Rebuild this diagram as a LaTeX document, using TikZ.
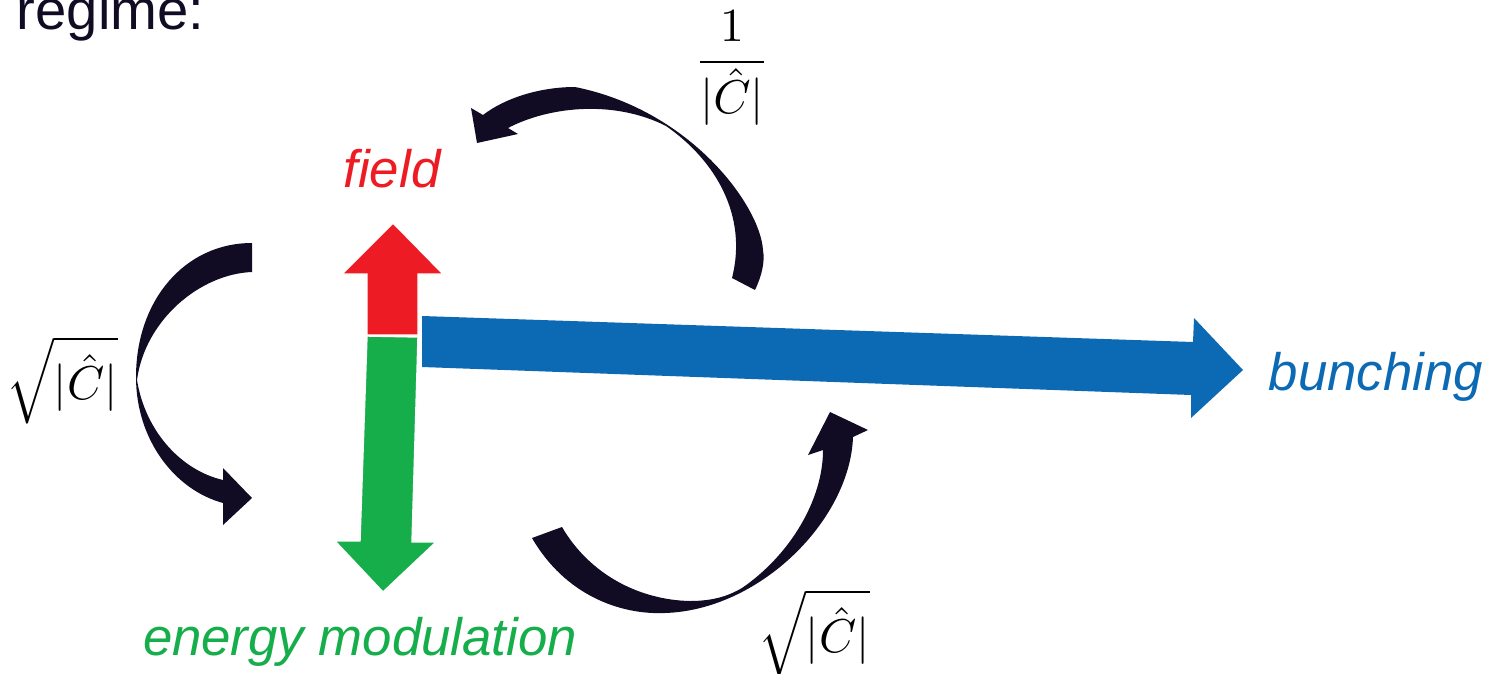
\documentclass[tikz,border=0pt]{standalone}
\usepackage[no-math]{fontspec}
\setsansfont{Liberation Sans}
\definecolor{fieldred}{HTML}{ED1C24}
\definecolor{energygreen}{HTML}{16AD4B}
\definecolor{bunchblue}{HTML}{0C6AB5}
\definecolor{inkdark}{HTML}{110C24}
\tikzset{
  lbl/.style={font=\sffamily\itshape\fontsize{15}{18}\selectfont, inner sep=0pt},
  coef/.style={scale=1.35, inner sep=0pt},
  curvy/.style={fill=inkdark},
  bigarrow/.style={draw=white, line width=0.4pt}
}
\begin{document}
\begin{tikzpicture}[x=0.01cm, y=-0.01cm]
  \useasboundingbox (0,0) rectangle (1498,673);
  % heading, cut at the top
  \node[font=\sffamily\fontsize{16}{19}\selectfont, text=inkdark, anchor=base west, inner sep=0pt] (regime) at (16,30) {regime:};
  % blue arrow towards bunching
  \fill[bunchblue] (422,316) -- (1193,342) -- (1194,318) -- (1243,370) -- (1191,418) -- (1191,395) -- (422,367) -- cycle;
  % red arrow up (field)
  \fill[fieldred, bigarrow] (367,335) -- (367,274) -- (342,274) -- (393,223) -- (443,274) -- (418,274) -- (418,335) -- cycle;
  % green arrow down (energy modulation)
  \fill[energygreen, bigarrow] (367,336) -- (418,337) -- (412,542) -- (436,542) -- (383,592) -- (335,541) -- (360,541) -- cycle;
  % labels
  \node[lbl, text=fieldred, anchor=base] (field) at (392,187) {field};
  \node[lbl, text=energygreen, anchor=base] (energy) at (360,655) {energy modulation};
  \node[lbl, text=bunchblue, anchor=base west] (bunching) at (1268,390) {bunching};
  % curved arrow top: back to field
  \fill[curvy] (755,290) .. controls (762,275) and (765,262) .. (763,250)
    .. controls (760,205) and (690,110) .. (575,87)
    .. controls (540,87) and (505,98) .. (483,115)
    -- (471,108) -- (477,143) -- (518,134) -- (508,128)
    .. controls (550,106) and (615,100) .. (666,126)
    .. controls (715,160) and (748,215) .. (732,278) -- cycle;
  % curved arrow left: down to energy modulation
  \fill[curvy] (252,243) .. controls (185,243) and (136,300) .. (136,377)
    .. controls (136,440) and (175,490) .. (223,503)
    -- (223,525) -- (252,498) -- (223,468) -- (223,480)
    .. controls (180,470) and (145,430) .. (137,380)
    .. controls (145,320) and (200,274) .. (252,272) -- cycle;
  % curved arrow bottom: up towards bunching
  \fill[curvy] (532,538) .. controls (565,595) and (620,615) .. (665,613)
    .. controls (760,610) and (850,520) .. (853,437)
    -- (868,430) -- (830,412) -- (808,455) -- (823,450)
    .. controls (823,500) and (790,555) .. (742,588)
    .. controls (730,595) and (715,601) .. (690,601)
    .. controls (640,600) and (590,575) .. (562,527) -- cycle;
  % coupling factors
  \node[coef] (topcoef) at (732,68) {$\displaystyle\frac{1}{|\hat{C}|}$};
  \node[coef] (leftcoef) at (62,380) {$\sqrt{|\hat{C}|}$};
  \node[coef] (bottomcoef) at (814,633) {$\sqrt{|\hat{C}|}$};
\end{tikzpicture}
\end{document}
